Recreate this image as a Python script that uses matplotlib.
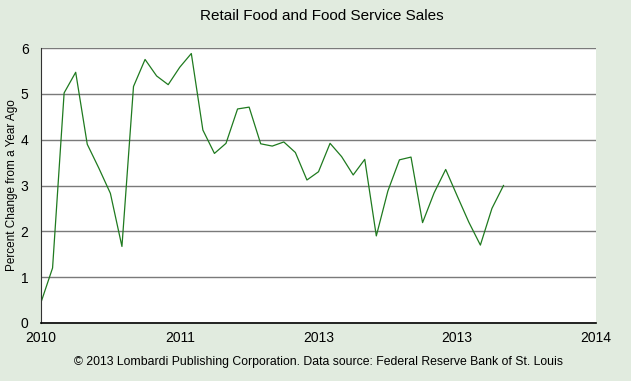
import numpy as np
import matplotlib.pyplot as plt

plt.rcParams['font.family'] = ['Liberation Sans Narrow', 'Liberation Sans', 'DejaVu Sans']

# monthly % change, Jan 2010 .. May 2013
sales = [0.45, 1.20, 5.02, 5.47, 3.90, 3.38, 2.83, 1.67, 5.16, 5.75,
         5.39, 5.20, 5.58, 5.88, 4.21, 3.70, 3.92, 4.67, 4.71, 3.91,
         3.86, 3.95, 3.72, 3.12, 3.30, 3.92, 3.63, 3.23, 3.57, 1.90,
         2.88, 3.56, 3.62, 2.19, 2.84, 3.35, 2.77, 2.20, 1.70, 2.50,
         3.00]
months = np.arange(len(sales))
tick_pos = [0, 12, 24, 36, 48]
tick_labels = ['2010', '2011', '2013', '2013', '2014']

bg = '#e1ebdf'
fig = plt.figure(figsize=(6.31, 3.81), dpi=100, facecolor=bg)
ax = fig.add_axes([41/631, 58/381, 555/631, 275/381])
ax.set_facecolor('white')

ax.plot(months, sales, color='#1f7a1f', lw=0.9)

ax.set_xlim(0, 48)
ax.set_ylim(0, 6)
ax.set_yticks(range(7))
ax.set_xticks(tick_pos)
ax.set_xticklabels(tick_labels)
ax.yaxis.grid(True, color='#7a7a7a', lw=1.0)
ax.set_axisbelow(True)
ax.tick_params(axis='x', length=0, labelsize=10, pad=6)
ax.tick_params(axis='y', length=0, labelsize=10, pad=9)
for s in ['top', 'right']:
    ax.spines[s].set_visible(False)
ax.spines['left'].set_color('#333333')
ax.spines['bottom'].set_color('black')
ax.spines['bottom'].set_linewidth(1.2)

ax.set_ylabel('Percent Change from a Year Ago', fontsize=8.5, labelpad=2)
fig.text(0.51, 0.957, 'Retail Food and Food Service Sales', ha='center', va='center', fontsize=11)
fig.text(0.505, 0.05, '\u00a9 2013 Lombardi Publishing Corporation. Data source: Federal Reserve Bank of St. Louis',
         ha='center', va='center', fontsize=8.8)

fig.savefig('out.png', dpi=100, facecolor=bg)
